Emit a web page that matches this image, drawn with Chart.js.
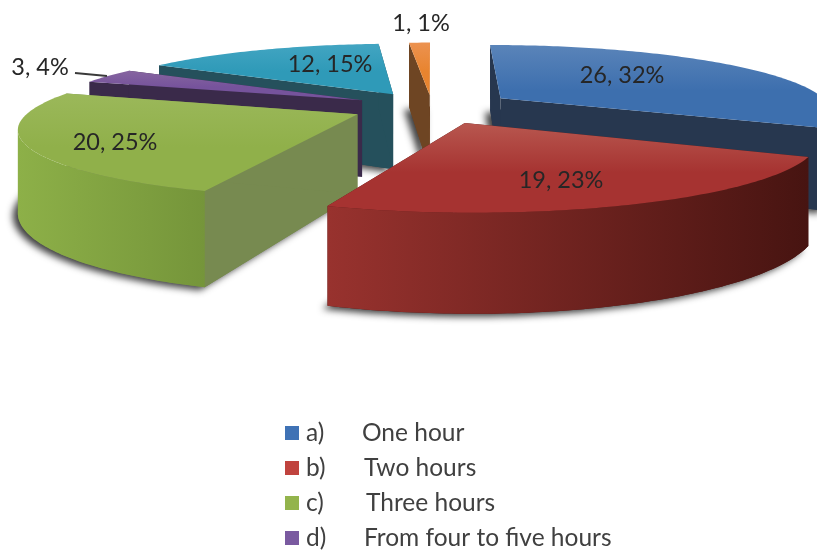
<!DOCTYPE html>
<html>
<head>
<meta charset="utf-8">
<title>Hours</title>
<script src="https://cdn.jsdelivr.net/npm/chart.js"></script>
<style>
  html,body{margin:0;padding:0;background:#fff;overflow:hidden}
  canvas{display:block}
</style>
</head>
<body>
<canvas id="grafik" width="817" height="550"></canvas>
<script>
const categories = ["One hour", "Two hours", "Three hours", "From four to five hours", "Other", "None"];
const markers = ["a)", "b)", "c)", "d)", "e)", "f)"];
const values = [26, 19, 20, 3, 12, 1];
const percents = [32, 23, 25, 4, 15, 1];

// slice colours: top face (light, dark), radial wall, outer wall (left, right)
const topLight = ["#5a84b9", "#b8574f", "#9bb85a", "#86659f", "#42a5c2", "#ec9250"];
const topDark = ["#3d6fae", "#a63331", "#90b04a", "#76539c", "#2f9ab8", "#e8842f"];
const sideWall = ["#27374f", "#4f1815", "#778a50", "#3a2a4a", "#25505c", "#6e4523"];
const outerLeft = ["#27374f", "#98322e", "#8db048", "#3a2a4a", "#25505c", "#6e4523"];
const outerRight = ["#27374f", "#471411", "#75953a", "#3a2a4a", "#25505c", "#6e4523"];
const legendColors = ["#3f72b5", "#c0433e", "#93b44c", "#7a5aa0", "#3aa0bc", "#e8842f"];

// how far each slice is pulled out, and its radius relative to the pie
const pullOut = [83, 83, 81, 79, 78, 62];
const reach = [1, 1, 0.98, 0.95, 0.96, 1];

// label centres for each slice
const labelSpots = [[622, 75], [561, 180], [115, 142], [40, 67], [330, 64], [421, 23]];

// ================= PERSPECTIVE =================
const TILT = 0.2;        // vertical squash of the pie plane
const PERSP = 0.00056;   // how fast things grow toward the viewer
const DEPTH = 78;        // wall height

function proj(cx, cy, dx, dy, z) {
  const s = 1 / (1 - dy * PERSP);
  return [cx + dx * s, cy + dy * TILT * s + z * s];
}

function tracePts(ctx, pts) {
  ctx.beginPath();
  pts.forEach((p, i) => i ? ctx.lineTo(p[0], p[1]) : ctx.moveTo(p[0], p[1]));
  ctx.closePath();
}

function arcPts(c, a0, a1, z) {
  const pts = [];
  const n = Math.max(2, Math.ceil((a1 - a0) * 60));
  for (let i = 0; i <= n; i++) {
    const a = a0 + (a1 - a0) * i / n;
    pts.push(proj(c.x, c.y, c.ox + c.r * Math.cos(a), c.oy + c.r * Math.sin(a), z));
  }
  return pts;
}

function drawSlice(ctx, c, i) {
  const apexTop = proj(c.x, c.y, c.ox, c.oy, 0);
  const apexLow = proj(c.x, c.y, c.ox, c.oy, DEPTH);
  const topArc = arcPts(c, c.a0, c.a1, 0);
  const lowArc = arcPts(c, c.a0, c.a1, DEPTH);

  // soft ground shadow
  ctx.save();
  ctx.shadowColor = "rgba(0,0,0,0.75)";
  ctx.shadowBlur = 7;
  ctx.shadowOffsetX = -5;
  ctx.shadowOffsetY = 3;
  ctx.fillStyle = sideWall[i];
  tracePts(ctx, [apexLow, ...lowArc]);
  ctx.fill();
  ctx.restore();

  // radial walls
  ctx.fillStyle = sideWall[i];
  tracePts(ctx, [apexTop, topArc[0], lowArc[0], apexLow]);
  ctx.fill();
  tracePts(ctx, [apexTop, topArc[topArc.length - 1], lowArc[lowArc.length - 1], apexLow]);
  ctx.fill();

  // outer wall, only the part facing the viewer
  const from = Math.max(c.a0, 0);
  const to = Math.min(c.a1, Math.PI);
  if (to > from) {
    const up = arcPts(c, from, to, 0);
    const low = arcPts(c, from, to, DEPTH);
    // stop at the silhouette so the band never folds back over itself
    const xs = up.map(p => p[0]);
    const iRight = xs.indexOf(Math.max(...xs));
    const iLeft = xs.indexOf(Math.min(...xs));
    const upCut = up.slice(iRight, iLeft + 1);
    const lowCut = low.slice(iRight, iLeft + 1);
    const g = ctx.createLinearGradient(xs[iLeft], 0, xs[iRight], 0);
    g.addColorStop(0, outerLeft[i]);
    g.addColorStop(1, outerRight[i]);
    ctx.fillStyle = g;
    tracePts(ctx, [...upCut, ...lowCut.reverse()]);
    ctx.fill();
  }

  // top face
  const ys = [apexTop, ...topArc].map(p => p[1]);
  const g2 = ctx.createLinearGradient(0, Math.min(...ys), 0, Math.max(...ys));
  g2.addColorStop(0, topLight[i]);
  g2.addColorStop(0.55, topDark[i]);
  g2.addColorStop(1, topDark[i]);
  ctx.fillStyle = g2;
  tracePts(ctx, [apexTop, ...topArc]);
  ctx.fill();
}

// ================= PIE DRAWING =================
const pie3d = {
  id: "pie3d",
  beforeDatasetsDraw(chart) {
    const ctx = chart.ctx;
    const arcs = chart.getDatasetMeta(0).data;
    const slices = arcs.map((arc, i) => {
      const p = arc.getProps(["x", "y", "startAngle", "endAngle", "outerRadius"], true);
      const mid = (p.startAngle + p.endAngle) / 2;
      const off = arc.options.offset;
      return {
        i, x: p.x, y: p.y, r: p.outerRadius * reach[i],
        a0: p.startAngle, a1: p.endAngle,
        ox: Math.cos(mid) * off, oy: Math.sin(mid) * off
      };
    });

    // far slices first
    slices.slice().sort((a, b) => a.oy - b.oy).forEach(c => drawSlice(ctx, c, c.i));
    return false;
  },
  afterDraw(chart) {
    const ctx = chart.ctx;
    ctx.save();
    ctx.textBaseline = "middle";

    // leader line of the small slice
    ctx.strokeStyle = "#3a3a3a";
    ctx.lineWidth = 2;
    ctx.beginPath();
    ctx.moveTo(75, 73);
    ctx.lineTo(107, 76);
    ctx.stroke();

    ctx.font = '23.5px Lato';
    ctx.fillStyle = "#262626";
    ctx.textAlign = "center";
    values.forEach((v, i) => {
      ctx.fillText(v + ", " + percents[i] + "%", labelSpots[i][0], labelSpots[i][1]);
    });

    // legend column
    ctx.font = '24.5px Lato';
    ctx.textAlign = "left";
    const textX = [362, 364, 366, 364, 364, 364];
    categories.forEach((name, i) => {
      const y = 433 + i * 35;
      ctx.fillStyle = legendColors[i];
      ctx.fillRect(285, y - 7, 14, 14);
      ctx.fillStyle = "#404040";
      ctx.fillText(markers[i], 306, y);
      ctx.fillText(name, textX[i], y);
    });
    ctx.restore();
  }
};

new Chart(document.getElementById("grafik"), {
  type: "pie",
  data: {
    labels: categories,
    datasets: [{
      data: values,
      backgroundColor: topDark,
      borderWidth: 0,
      offset: pullOut
    }]
  },
  options: {
    responsive: false,
    animation: false,
    radius: 331,
    layout: { padding: { left: 47, bottom: 336 } },
    plugins: { legend: { display: false }, tooltip: { enabled: false } }
  },
  plugins: [pie3d]
});
</script>
</body>
</html>
